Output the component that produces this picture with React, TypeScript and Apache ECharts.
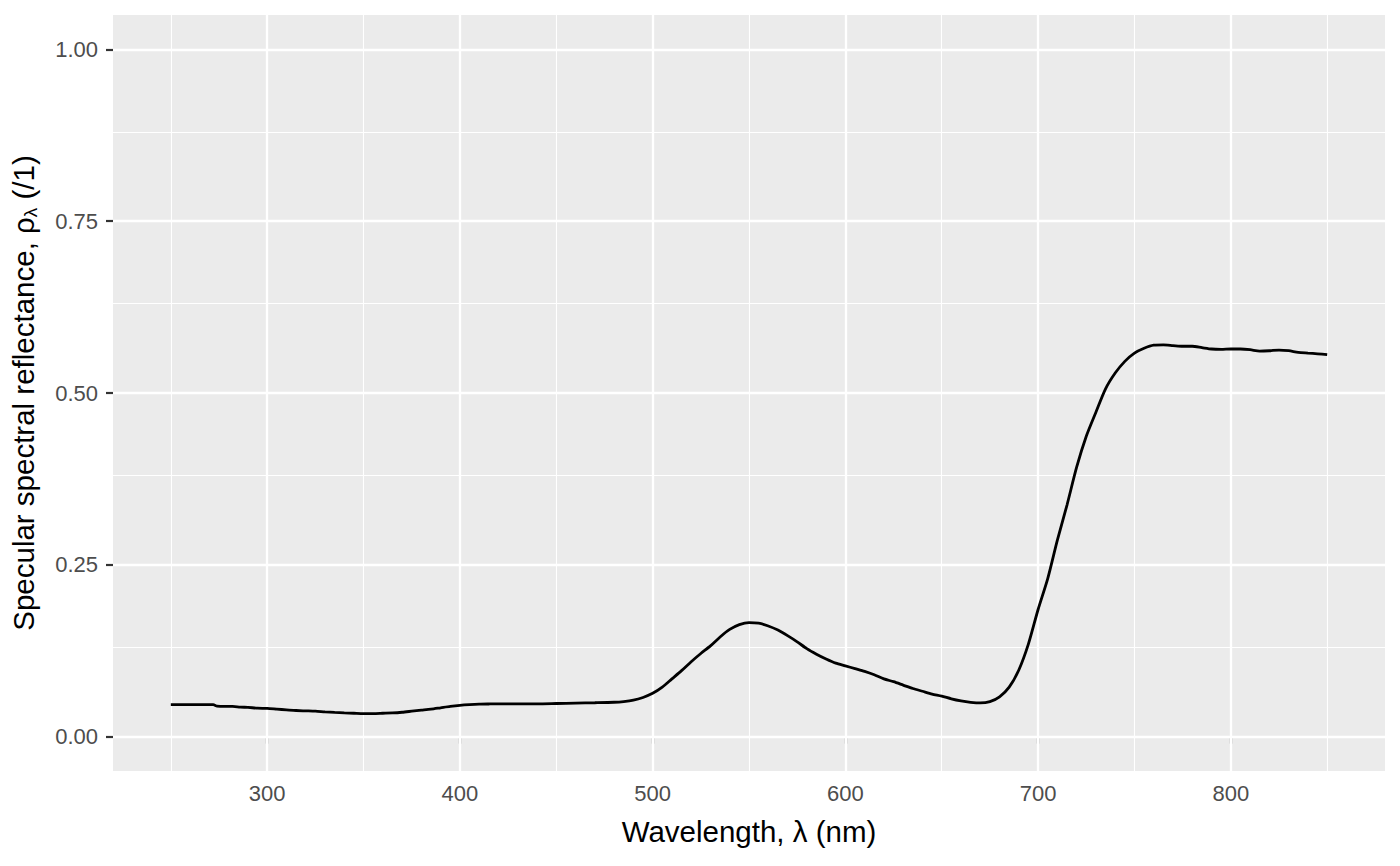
import React, { useEffect, useRef } from "react";
import * as echarts from "echarts";

const wavelength = [
  250, 255, 260, 265, 270, 272, 274, 278, 282, 286, 290, 295, 300, 305, 310, 315, 320, 325, 330, 335,
  340, 345, 350, 355, 360, 365, 370, 375, 380, 385, 390, 395, 400, 405, 410, 415, 420, 430, 440, 450,
  460, 470, 480, 485, 490, 495, 500, 505, 510, 515, 520, 525, 530, 535, 540, 545, 550, 555, 560, 565,
  570, 575, 580, 585, 590, 595, 600, 605, 610, 615, 620, 625, 630, 635, 640, 645, 650, 655, 660, 665,
  670, 675, 680, 685, 690, 695, 700, 705, 710, 715, 720, 725, 730, 735, 740, 745, 750, 755, 760, 765,
  770, 775, 780, 785, 790, 795, 800, 805, 810, 815, 820, 825, 830, 835, 840, 845, 850,
];
const reflectance = [
  0.0465, 0.0465, 0.0465, 0.0465, 0.0465, 0.0465, 0.0445, 0.044, 0.044, 0.043, 0.0425, 0.0415, 0.041, 0.04, 0.039, 0.038, 0.0375, 0.037, 0.036, 0.0352,
  0.0345, 0.034, 0.0335, 0.0335, 0.034, 0.0345, 0.0355, 0.037, 0.0385, 0.04, 0.042, 0.044, 0.0455, 0.0465, 0.0472, 0.0475, 0.0477, 0.0477, 0.0477, 0.0482,
  0.0488, 0.0493, 0.05, 0.051, 0.053, 0.057, 0.063, 0.072, 0.084, 0.096, 0.109, 0.121, 0.132, 0.145, 0.156, 0.163, 0.166, 0.165, 0.161, 0.155,
  0.147, 0.138, 0.128, 0.12, 0.113, 0.107, 0.103, 0.099, 0.095, 0.09, 0.084, 0.08, 0.075, 0.07, 0.066, 0.062, 0.059, 0.055, 0.052, 0.05,
  0.049, 0.051, 0.058, 0.072, 0.097, 0.135, 0.185, 0.23, 0.286, 0.337, 0.392, 0.437, 0.472, 0.506, 0.529, 0.546, 0.558, 0.565, 0.5695, 0.57,
  0.569, 0.568, 0.568, 0.566, 0.564, 0.5635, 0.564, 0.564, 0.563, 0.561, 0.5615, 0.5625, 0.5615, 0.559, 0.558, 0.557, 0.5557,
];

const xMajor = [300, 400, 500, 600, 700, 800];
const xMinor = [250, 350, 450, 550, 650, 750, 850];
const yMajor = [0, 0.25, 0.5, 0.75, 1];
const yMinor = [0.125, 0.375, 0.625, 0.875];

const xTitle = "Wavelength, λ (nm)";
const yTitle = "Specular spectral reflectance, {r|ρ}{s|λ} (/1)";

export default function App() {
  const ref = useRef<HTMLDivElement>(null);
  useEffect(() => {
    if (!ref.current) return;
    const chart = echarts.init(ref.current, null, { renderer: "svg" });
    const font = "Liberation Sans, Arial, sans-serif";
    const gridLine = (vals: number[], axis: "xAxis" | "yAxis", width: number) =>
      vals.map((v) => ({ [axis]: v, lineStyle: { color: "#FFFFFF", width, type: "solid" } }));
    chart.setOption({
      animation: false,
      backgroundColor: "#FFFFFF",
      grid: {
        left: 113,
        right: 15,
        top: 15,
        bottom: 95,
        show: true,
        backgroundColor: "#EBEBEB",
        borderWidth: 0,
        containLabel: false,
        outerBoundsMode: "none",
      },
      xAxis: {
        type: "value",
        min: 220,
        max: 880,
        axisLine: { show: false },
        splitLine: { show: false },
        axisTick: { show: true, length: 7, lineStyle: { color: "#333333", width: 2.2 }, customValues: xMajor },
        axisLabel: {
          customValues: xMajor,
          margin: 11,
          fontSize: 22,
          color: "#4D4D4D",
          fontFamily: font,
        },
        name: xTitle,
        nameLocation: "middle",
        nameGap: 45,
        nameTextStyle: { fontSize: 29.5, color: "#000000", fontFamily: font },
      },
      yAxis: {
        type: "value",
        min: -0.05,
        max: 1.05,
        axisLine: { show: false },
        splitLine: { show: false },
        axisTick: { show: true, length: 7, lineStyle: { color: "#333333", width: 2.2 }, customValues: yMajor },
        axisLabel: {
          customValues: yMajor,
          margin: 15,
          fontSize: 22,
          color: "#4D4D4D",
          fontFamily: font,
          formatter: (v: number) => v.toFixed(2),
        },
        name: yTitle,
        nameLocation: "middle",
        nameRotate: 90,
        nameGap: 73,
        nameTextStyle: {
          fontSize: 29.5,
          color: "#000000",
          fontFamily: font,
          lineHeight: 34,
          rich: {
            r: { fontSize: 29.5, color: "#000000", fontFamily: font, lineHeight: 34 },
            s: { fontSize: 19, color: "#000000", fontFamily: font, verticalAlign: "bottom", lineHeight: 22 },
          },
        },
      },
      series: [
        {
          type: "line",
          z: 1,
          data: [],
          silent: true,
          markLine: {
            silent: true,
            symbol: "none",
            animation: false,
            label: { show: false },
            data: [
              ...gridLine(xMinor, "xAxis", 1.1),
              ...gridLine(yMinor, "yAxis", 1.1),
              ...gridLine(xMajor, "xAxis", 2.3),
              ...gridLine(yMajor, "yAxis", 2.3),
            ],
          },
        },
        {
          type: "line",
          z: 5,
          data: wavelength.map((w, i) => [w, reflectance[i]]),
          showSymbol: false,
          symbol: "none",
          smooth: 0.25,
          lineStyle: { color: "#000000", width: 2.8 },
          silent: true,
        },
      ],
    });
    return () => chart.dispose();
  }, []);
  return <div ref={ref} style={{ width: 1400, height: 866, position: "absolute", left: 0, top: 0 }} />;
}
